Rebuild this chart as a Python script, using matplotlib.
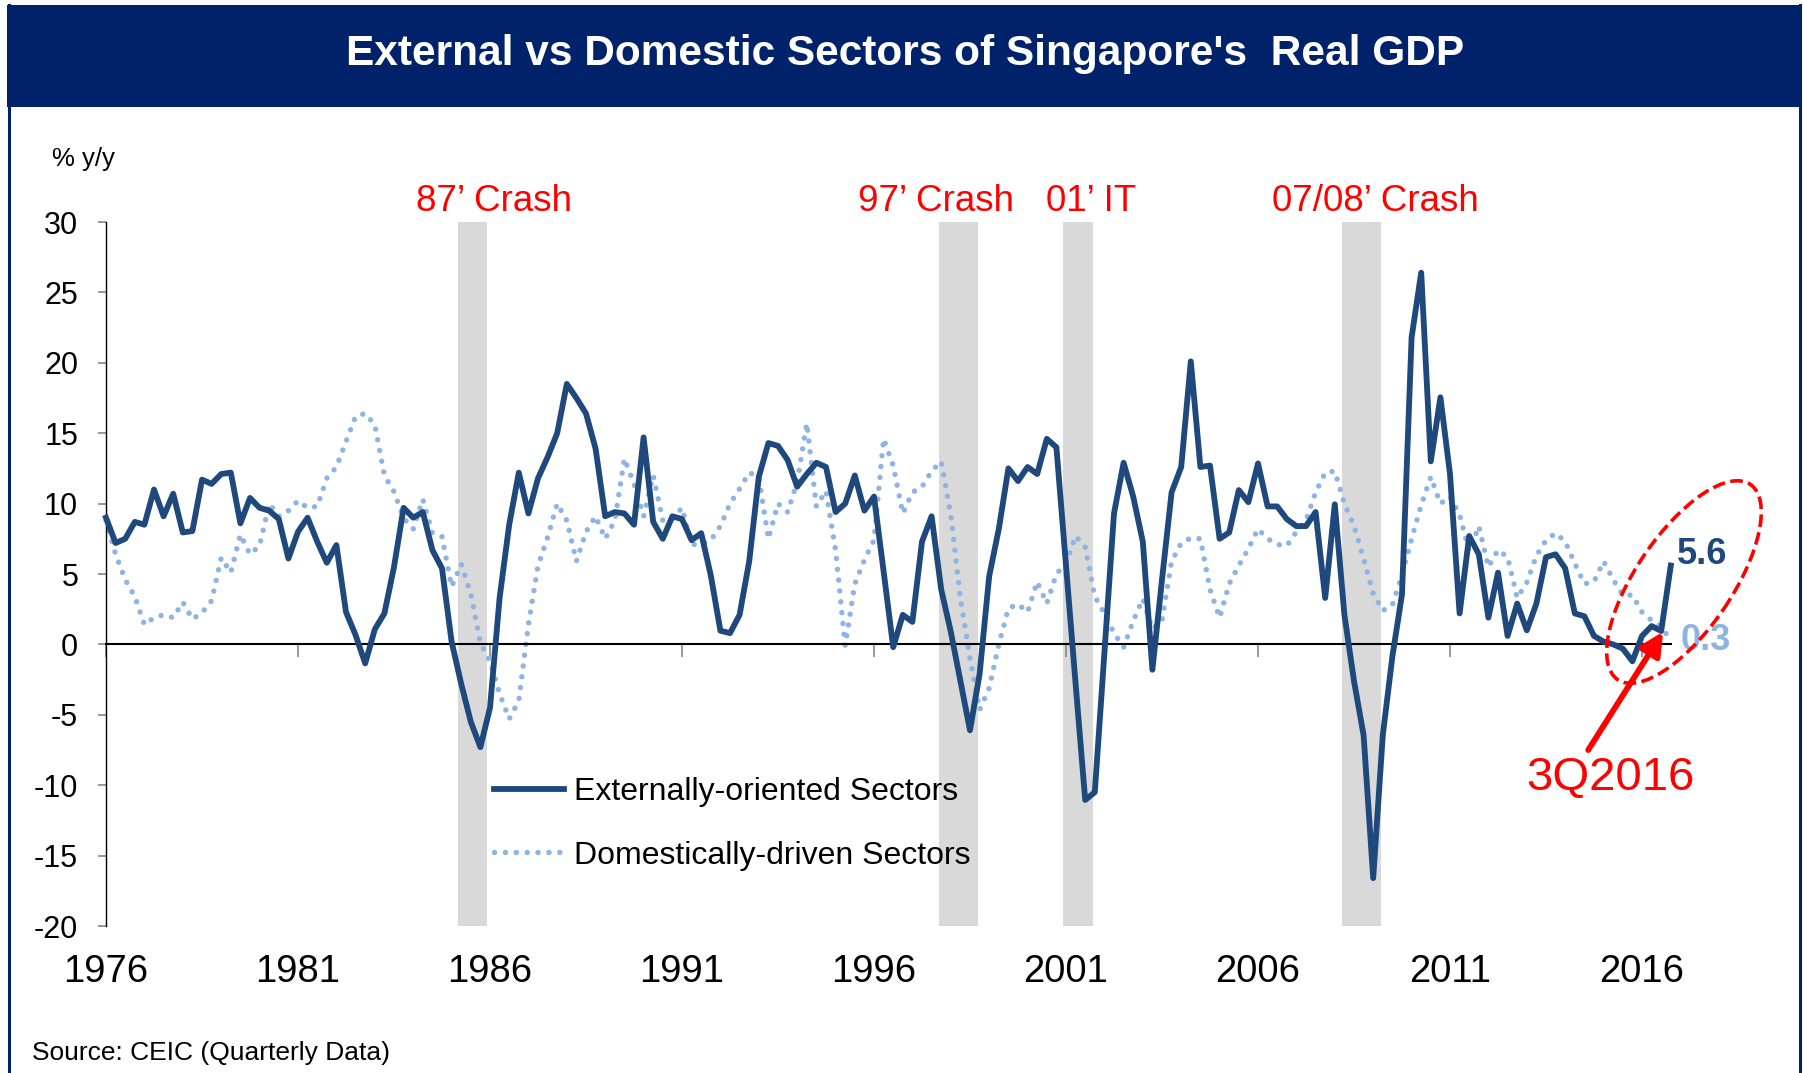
import numpy as np
import matplotlib
matplotlib.use("Agg")
import matplotlib.pyplot as plt
from matplotlib.patches import Rectangle, Ellipse
from matplotlib.lines import Line2D

plt.rcParams['font.family'] = ['Liberation Sans', 'DejaVu Sans']

# ---------------- data (quarterly, 1976Q1 ... 2016Q3, % y/y) ----------------
external = [
    9.0, 7.2, 7.5, 8.7, 8.5, 11.0, 9.1, 10.7, 7.95, 8.05,
    11.7, 11.4, 12.1, 12.2, 8.6, 10.4, 9.7, 9.5, 8.9, 6.1,
    8.0, 9.0, 7.3, 5.8, 7.05, 2.3, 0.66, -1.35, 1.07, 2.2,
    5.5, 9.7, 9.0, 9.4, 6.7, 5.4, 0.2, -2.8, -5.5, -7.3,
    -4.5, 3.3, 8.5, 12.2, 9.3, 11.8, 13.3, 15.0, 18.5, 17.5,
    16.4, 13.9, 9.1, 9.4, 9.3, 8.5, 14.7, 8.7, 7.5, 9.1,
    8.9, 7.4, 7.9, 4.9, 0.97, 0.8, 2.1, 5.9, 11.9, 14.3,
    14.1, 13.1, 11.2, 12.1, 12.9, 12.6, 9.4, 10.0, 12.0, 9.5,
    10.5, 5.2, -0.2, 2.1, 1.6, 7.3, 9.1, 3.9, 0.9, -2.6,
    -6.1, -2.1, 4.85, 8.2, 12.5, 11.6, 12.6, 12.1, 14.6, 14.0,
    5.6, -2.8, -11.05, -10.5, -0.6, 9.3, 12.9, 10.5, 7.3, -1.8,
    4.6, 10.8, 12.6, 20.1, 12.6, 12.7, 7.5, 7.95, 10.96, 10.1,
    12.85, 9.8, 9.8, 8.9, 8.4, 8.4, 9.4, 3.3, 9.95, 2.1,
    -2.6, -6.45, -16.6, -6.45, -0.85, 3.56, 21.8, 26.4, 13.0, 17.55,
    12.1, 2.2, 7.7, 6.4, 1.9, 5.1, 0.6, 2.9, 1.0, 2.9,
    6.2, 6.4, 5.4, 2.2, 2.0, 0.6, 0.2, 0.0, -0.3, -1.2,
    0.6, 1.3, 0.95, 5.6,
]
domestic = [
    8.8, 6.4, 4.6, 3.4, 1.4, 1.9, 2.1, 1.9, 3.0, 1.8,
    2.25, 3.1, 6.15, 5.1, 7.8, 6.4, 7.0, 10.0, 9.1, 9.5,
    10.2, 9.7, 9.8, 11.8, 12.6, 14.4, 16.2, 16.4, 15.6, 12.0,
    10.85, 8.95, 8.2, 10.3, 7.9, 7.65, 4.1, 5.7, 3.6, 0.1,
    -1.2, -3.5, -5.3, -4.0, 1.4, 5.6, 7.6, 10.0, 8.8, 5.9,
    8.0, 9.1, 7.5, 8.8, 13.2, 11.4, 9.1, 12.0, 8.8, 8.9,
    9.7, 7.1, 7.1, 7.4, 8.4, 10.0, 11.05, 12.2, 11.9, 7.5,
    10.0, 9.4, 11.55, 15.7, 9.8, 10.9, 6.7, -0.1, 4.3, 6.0,
    7.4, 14.6, 12.7, 9.3, 10.8, 11.2, 12.3, 13.0, 9.2, 3.3,
    -1.0, -4.66, -3.1, 0.0, 2.56, 2.86, 2.3, 4.45, 2.9, 5.0,
    5.75, 7.7, 6.9, 3.4, 2.2, 0.8, -0.2, 1.66, 3.24, 1.1,
    1.7, 5.9, 7.2, 7.55, 7.5, 3.9, 1.9, 4.3, 5.6, 6.8,
    8.2, 7.5, 7.1, 7.0, 8.0, 8.8, 10.8, 12.2, 12.3, 10.0,
    8.4, 6.1, 3.6, 2.4, 2.8, 4.9, 7.5, 9.9, 11.9, 10.0,
    10.5, 9.2, 6.6, 8.4, 5.5, 6.7, 6.2, 3.3, 4.4, 6.3,
    7.4, 7.9, 7.3, 5.75, 4.3, 4.45, 5.9, 4.6, 3.5, 3.5,
    2.3, 1.7, 1.25, 0.3,
]
series_names = ["Externally-oriented Sectors", "Domestically-driven Sectors"]
tick_years = ["1976", "1981", "1986", "1991", "1996", "2001", "2006", "2011", "2016"]
quarters_per_tick = 20
# shaded crisis periods, in quarters counted from 1976Q1
crisis_spans = [(36.7, 39.7), (86.8, 90.8), (99.7, 102.8), (128.75, 132.8)]
crisis_labels = ["87\u2019 Crash", "97\u2019 Crash", "01\u2019 IT", "07/08\u2019 Crash"]
crisis_label_x = [40.4, 86.5, 102.6, 132.2]
last_label = "3Q2016"

# ---------------- styling ----------------
W, H = 1803, 1073
NAVY = "#00226A"
DARK = "#1F497D"
LIGHT = "#8DB4E2"
RED = "#FF0000"

def fx(px):
    return px / W

def fy(py):
    return 1 - py / H

fig = plt.figure(figsize=(W / 100, H / 100), dpi=100)
fig.patch.set_facecolor("white")

# title band and frame
fig.patches.append(Rectangle((fx(7), fy(107)), fx(1801) - fx(7), fy(5) - fy(107),
                             transform=fig.transFigure, facecolor=NAVY, edgecolor="none", zorder=0))
for xpx in (8.5, 1799.5):
    fig.lines.append(Line2D([fx(xpx), fx(xpx)], [fy(5), 0], transform=fig.transFigure,
                            color=NAVY, lw=2.2))
fig.text(fx(905), fy(54), "External vs Domestic Sectors of Singapore's  Real GDP",
         color="white", fontsize=30.5, fontweight="bold", ha="center", va="center")

x = np.arange(len(external))
ax = fig.add_axes([fx(106), fy(926), fx(1670.8) - fx(106), fy(222) - fy(926)])

for (a, b) in crisis_spans:
    ax.axvspan(a, b, color="#D9D9D9", lw=0, zorder=0)

ax.plot(x, domestic, color=LIGHT, lw=3.9, linestyle=(0, (0.01, 2.0)),
        dash_capstyle="round", label=series_names[1], zorder=2, clip_on=False)
ax.plot(x, external, color=DARK, lw=4.2, label=series_names[0], zorder=3,
        solid_joinstyle="round", clip_on=False)

ax.set_xlim(0, len(external) - 1)
ax.set_ylim(-20, 30)
ax.set_yticks(np.arange(-20, 31, 5))
ax.yaxis.set_major_formatter(matplotlib.ticker.FuncFormatter(lambda v, p: f"{int(v)}"))

for s in ("top", "right"):
    ax.spines[s].set_visible(False)
ax.spines["left"].set_color("black")
ax.spines["left"].set_linewidth(1.0)
ax.spines["bottom"].set_position(("data", 0))
ax.spines["bottom"].set_color("black")
ax.spines["bottom"].set_linewidth(1.5)

ticks = np.arange(0, len(external), quarters_per_tick)
ax.set_xticks(ticks)
ax.tick_params(axis="x", direction="out", length=9, width=1.2, color="#888888",
               labelbottom=False)
ax.tick_params(axis="y", direction="out", length=6, width=1.2, color="#888888",
               labelsize=22, pad=14)

sec = ax.secondary_xaxis(0.0)
sec.set_xticks(ticks)
sec.set_xticklabels(tick_years)
sec.tick_params(length=0, labelsize=27.5, pad=20)
sec.spines["bottom"].set_visible(False)

# crisis labels
for lab, lx in zip(crisis_labels, crisis_label_x):
    ax.text(lx, 31.45, lab, color=RED, fontsize=26.5, ha="center", va="center", clip_on=False)

fig.text(fx(52), fy(159), "% y/y", fontsize=18.5, ha="left", va="center")

# legend
leg = ax.legend(handles=[ax.lines[1], ax.lines[0]], labels=series_names,
                loc="upper left", bbox_to_anchor=(fx(494), fy(777)),
                bbox_transform=fig.transFigure, frameon=False, fontsize=23,
                handlelength=2.2, handletextpad=0.3, labelspacing=1.05,
                borderpad=0, borderaxespad=0)

# end-point labels
ax.text(len(external) - 1 + 0.6, external[-1] + 0.75, f"{external[-1]:.1f}", color=DARK,
        fontsize=26, fontweight="bold", ha="left", va="center", clip_on=False)
ax.text(len(domestic) - 1 + 1.0, domestic[-1] - 0.05, f"{domestic[-1]:.1f}", color=LIGHT,
        fontsize=26, fontweight="bold", ha="left", va="center", clip_on=False, zorder=1)

# 3Q2016 call-out
ax.text(156.7, -9.5, last_label, color=RED, fontsize=34, ha="center", va="center", clip_on=False)
ax.annotate("", xy=(162.2, 0.9), xytext=(154.4, -7.5),
            arrowprops=dict(arrowstyle="-|>", color=RED, lw=4.2, mutation_scale=34,
                            shrinkA=0, shrinkB=0), annotation_clip=False)
fig.patches.append(Ellipse((16.84, (H - 582) / 100), 2.36, 0.96, angle=55.8,
                           transform=fig.dpi_scale_trans, fill=False, edgecolor=RED,
                           lw=2.6, linestyle=(0, (3.5, 1.5))))

fig.text(fx(32), fy(1053), "Source: CEIC (Quarterly Data)", fontsize=19, ha="left", va="center")

fig.savefig("out.png", dpi=100)
